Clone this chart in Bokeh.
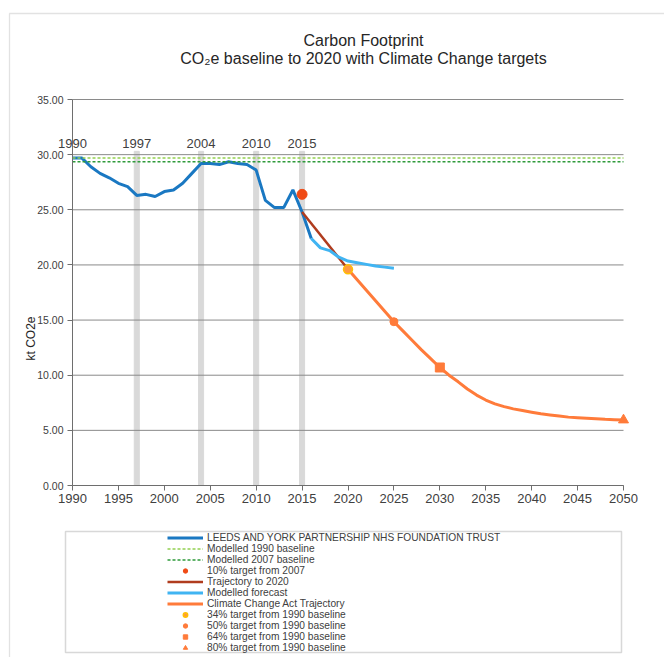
from bokeh.plotting import figure
from bokeh.models import (Range1d, SingleIntervalTicker, NumeralTickFormatter, Label,
                          LabelSet, BoxAnnotation, Legend, LegendItem, ColumnDataSource)
from bokeh.core.properties import value
from bokeh.embed import file_html
from bokeh.resources import INLINE
import math

# ---- data (kt CO2e) ----
trust_years = list(range(1990, 2017))
trust_values = [29.7, 29.7, 28.9, 28.3, 27.9, 27.4, 27.1, 26.3, 26.4, 26.2,
                26.65, 26.8, 27.4, 28.3, 29.2, 29.2, 29.1, 29.35, 29.2, 29.1,
                28.6, 25.85, 25.2, 25.2, 26.8, 24.8, 22.4]

baseline_years = [1990, 2050]
baseline_1990 = [29.7, 29.7]
baseline_2007 = [29.35, 29.35]

target_2007_year = [2015]
target_2007_value = [26.4]

trajectory_years = [2015, 2020]
trajectory_values = [24.8, 19.6]

forecast_years = list(range(2016, 2026))
forecast_values = [22.4, 21.55, 21.3, 20.7, 20.35, 20.2, 20.05, 19.9, 19.8, 19.7]

cca_years = list(range(2020, 2051))
cca_values = [19.6, 18.65, 17.7, 16.75, 15.8, 14.85, 14.0, 13.15, 12.3, 11.5,
              10.7, 10.0, 9.4, 8.75, 8.2, 7.75, 7.4, 7.15, 6.95, 6.8,
              6.65, 6.5, 6.4, 6.3, 6.2, 6.15, 6.1, 6.05, 6.0, 5.97, 5.94]

target_34 = ([2020], [19.6])
target_50 = ([2025], [14.85])
target_64 = ([2030], [10.7])
target_80 = ([2050], [5.94])

milestone_years = [1990, 1997, 2004, 2010, 2015]
milestone_top = 30.3

y_ticks = [0, 5, 10, 15, 20, 25, 30, 35]
x_start, x_end = 1990, 2050
y_start, y_end = 0, 35

FONT = "Liberation Sans"
TXT = "#404040"
W, H = 664, 657

# plot area inside the canvas (px)
PL, PR, PT, PB = 72, 623, 99, 485
xs = (x_end - x_start) / (PR - PL)
ys = (y_end - y_start) / (PB - PT)

p = figure(width=W, height=H,
           x_range=Range1d(x_start - PL * xs, x_end + (W - PR) * xs),
           y_range=Range1d(y_start - (H - PB) * ys, y_end + PT * ys),
           output_backend="svg", toolbar_location=None,
           min_border=0, min_border_left=0, min_border_right=0,
           min_border_top=0, min_border_bottom=0)
p.title.visible = False
p.outline_line_color = None
p.background_fill_color = "white"
p.border_fill_color = "white"
p.xgrid.visible = False
p.ygrid.visible = False

# axes pinned to the data origin
p.yaxis.fixed_location = x_start
p.yaxis.bounds = (y_start, y_end)
p.xaxis.fixed_location = y_start
p.xaxis.bounds = (x_start, x_end)
p.yaxis.ticker = SingleIntervalTicker(interval=5, num_minor_ticks=0)
p.yaxis.formatter = NumeralTickFormatter(format="0.00")
p.xaxis.ticker = SingleIntervalTicker(interval=5, num_minor_ticks=0)
for ax in (p.xaxis[0], p.yaxis[0]):
    ax.axis_line_color = "#6e6e6e"
    ax.major_tick_line_color = "#6e6e6e"
    ax.minor_tick_line_color = None
    ax.major_tick_in = 0
    ax.major_label_text_font = FONT
    ax.major_label_text_color = TXT
p.yaxis.major_tick_out = 5
p.yaxis.major_label_standoff = 4
p.yaxis.major_label_text_font_size = "10.5px"
p.xaxis.major_tick_out = 5
p.xaxis.major_label_standoff = 3
p.xaxis.major_label_text_font_size = "13px"

# milestone year markers
p.vbar(x=milestone_years[1:], top=milestone_top, bottom=0, width=0.55,
       color="#d9d9d9", level="image")
p.add_layout(LabelSet(source=ColumnDataSource(dict(
    x=milestone_years, y=[milestone_top] * len(milestone_years),
    t=[str(y) for y in milestone_years])),
    x="x", y="y", text="t", text_align="center", text_baseline="bottom", y_offset=3,
    text_font=value(FONT), text_font_size="13px", text_color=TXT))

# horizontal gridlines
p.segment(x0=x_start, x1=x_end, y0=y_ticks, y1=y_ticks,
          line_color="#8a8a8a", line_width=1, level="underlay")

r_trust = p.line(trust_years, trust_values, line_color="#1a78c2", line_width=3)
r_b90 = p.line(baseline_years, baseline_1990, line_color="#92d050", line_width=1.5, line_dash="3 2")
r_b07 = p.line(baseline_years, baseline_2007, line_color="#2e9a3a", line_width=1.5, line_dash="3 2")
r_t07 = p.scatter(target_2007_year, target_2007_value, marker="circle", size=10,
                  fill_color="#f04b16", line_color="#f04b16")
r_traj = p.line(trajectory_years, trajectory_values, line_color="#b03c1e", line_width=2.5)
r_fc = p.line(forecast_years, forecast_values, line_color="#40b4f2", line_width=3)
r_cca = p.line(cca_years, cca_values, line_color="#ff7b3a", line_width=3)
r_34 = p.scatter(*target_34, marker="circle", size=9, fill_color="#ff9a40", line_color="#ffc000", line_width=1.5)
r_50 = p.scatter(*target_50, marker="circle", size=8, fill_color="#ff7b3a", line_color="#ff7b3a")
r_64 = p.scatter(*target_64, marker="square", size=9, fill_color="#ff7b3a", line_color="#ff7b3a")
r_80 = p.scatter(*target_80, marker="triangle", size=10, fill_color="#ff7b3a", line_color="#ff7b3a")

# outer chart border and legend box (screen px, y measured from bottom)
p.add_layout(BoxAnnotation(left=9, right=W + 40, top=H - 13, bottom=-40,
                           left_units="screen", right_units="screen",
                           top_units="screen", bottom_units="screen",
                           fill_alpha=0, line_color="#a0a0a0", line_width=1.3))
p.add_layout(BoxAnnotation(left=65, right=621, top=H - 531, bottom=H - 652,
                           left_units="screen", right_units="screen",
                           top_units="screen", bottom_units="screen",
                           fill_alpha=0, line_color="#7f7f7f", line_width=1.5))

items = [
    ("LEEDS AND YORK PARTNERSHIP NHS FOUNDATION TRUST", r_trust),
    ("Modelled 1990 baseline", r_b90),
    ("Modelled 2007 baseline", r_b07),
    ("10% target from 2007", r_t07),
    ("Trajectory to 2020", r_traj),
    ("Modelled forecast", r_fc),
    ("Climate Change Act Trajectory", r_cca),
    ("34% target from 1990 baseline", r_34),
    ("50% target from 1990 baseline", r_50),
    ("64% target from 1990 baseline", r_64),
    ("80% target from 1990 baseline", r_80),
]
legend = Legend(items=[LegendItem(label=l, renderers=[r]) for l, r in items],
                location=(167, H - 653), padding=0, margin=0, spacing=0,
                glyph_width=36, glyph_height=11, label_height=11, label_standoff=4,
                label_text_font=FONT, label_text_font_size="10.2px", label_text_color=TXT,
                label_text_line_height=1.0,
                border_line_color=None, background_fill_alpha=0)
p.add_layout(legend)

# titles and axis label
p.add_layout(Label(x=363, y=H - 40, x_units="screen", y_units="screen",
                   text="Carbon Footprint", text_align="center", text_baseline="middle",
                   text_font=FONT, text_font_size="16px", text_color="#262626"))
p.add_layout(Label(x=363, y=H - 58, x_units="screen", y_units="screen",
                   text="CO\u2082e baseline to 2020 with Climate Change targets",
                   text_align="center", text_baseline="middle",
                   text_font=FONT, text_font_size="16px", text_color="#262626"))
p.add_layout(Label(x=30, y=H - 338, x_units="screen", y_units="screen",
                   text="kt CO2e", angle=math.pi / 2, text_align="center", text_baseline="middle",
                   text_font=FONT, text_font_size="12px", text_color="#262626"))

open("out.html", "w").write(file_html(p, INLINE))
